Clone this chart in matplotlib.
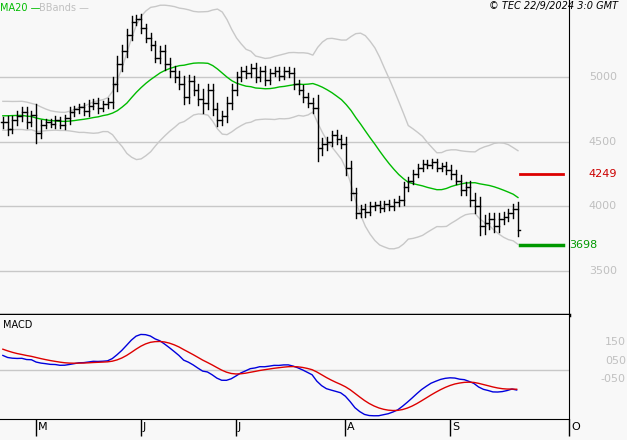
import numpy as np
import pandas as pd
import matplotlib.pyplot as plt

# --- data ---
pre_close = [3950, 3980, 4020, 4060, 4100, 4150, 4180, 4230, 4270, 4300,
             4350, 4400, 4440, 4480, 4520, 4560, 4600, 4640, 4680, 4720,
             4760, 4780, 4800, 4790, 4770, 4750, 4720, 4700, 4690, 4680,
             4670, 4660, 4650, 4660, 4650]
close = [4650, 4600, 4670, 4700, 4730, 4650, 4710, 4570, 4630, 4650,
         4640, 4670, 4630, 4680, 4730, 4750, 4770, 4740, 4780, 4800,
         4760, 4790, 4810, 4950, 5100, 5200, 5330, 5430, 5450, 5380,
         5300, 5250, 5150, 5200, 5100, 5050, 5000, 4950, 4850, 4970,
         4900, 4830, 4800, 4900, 4750, 4670, 4700, 4800, 4900, 5000,
         5050, 5030, 5070, 5000, 5050, 4980, 5030, 5050, 5010, 5050,
         5030, 4950, 4900, 4850, 4800, 4760, 4450, 4480, 4500, 4550,
         4520, 4480, 4300, 4100, 3950, 3980, 3960, 4000, 4010, 3990,
         4020, 4000, 4030, 4050, 4150, 4200, 4250, 4300, 4330, 4320,
         4340, 4300, 4310, 4280, 4250, 4200, 4130, 4150, 4050, 4000,
         3850, 3870, 3900, 3850, 3900, 3920, 3950, 3980, 3820]
rng = [40, 50, 30, 40, 40, 40, 30, 80, 40, 25,
       25, 30, 25, 30, 40, 30, 25, 30, 40, 30,
       40, 25, 30, 50, 60, 50, 45, 40, 30, 40,
       30, 40, 30, 40, 45, 50, 40, 45, 60, 50,
       40, 45, 80, 50, 45, 50, 40, 45, 50, 40,
       30, 40, 30, 40, 30, 40, 30, 25, 30, 25,
       30, 40, 30, 40, 30, 40, 100, 50, 40, 30,
       40, 30, 60, 50, 40, 30, 40, 30, 25, 30,
       25, 30, 25, 30, 40, 30, 30, 25, 30, 25,
       25, 30, 25, 30, 40, 30, 40, 40, 45, 50,
       70, 60, 45, 50, 45, 40, 30, 40, 50]
month_labels = ["M", "J", "J", "A", "S", "O"]
month_pos = [7, 29, 49, 72, 94, 119]
resistance = 4249
support = 3698
price_ticks = [3500, 4000, 4500, 5000]
macd_ticks = [150, 50, -50]

allc = pd.Series(pre_close + close, dtype=float)
ma20 = allc.rolling(20).mean()
sd20 = allc.rolling(20).std(ddof=0)
upper = ma20 + 2 * sd20
lower = ma20 - 2 * sd20
macd = allc.ewm(span=12, adjust=False).mean() - allc.ewm(span=26, adjust=False).mean()
signal = macd.ewm(span=9, adjust=False).mean()
n0 = len(pre_close)
x = np.arange(len(close))
sl = slice(n0, None)

bg = "#f8f8f8"
grey = "#c8c8c8"
fig = plt.figure(figsize=(6.27, 4.4), dpi=100, facecolor=bg)
ax = fig.add_axes([0, 0.284, 0.9075, 0.716], facecolor=bg)
ax2 = fig.add_axes([0, 0.048, 0.9075, 0.236], facecolor=bg)

# price panel
for t in price_ticks:
    ax.axhline(t, color=grey, lw=1, zorder=0)
ax.plot(x, upper[sl].values, color=grey, lw=1)
ax.plot(x, lower[sl].values, color=grey, lw=1)
ax.plot(x, ma20[sl].values, color="#00bb00", lw=1)
opens = [pre_close[-1]] + close[:-1]
for i, (o, c, r) in enumerate(zip(opens, close, rng)):
    hi = max(o, c) + r
    lo = min(o, c) - r
    ax.plot([i, i], [lo, hi], color="black", lw=1)
    ax.plot([i - 0.4, i], [o, o], color="black", lw=1)
    ax.plot([i, i + 0.4], [c, c], color="black", lw=1)
ax.plot([108.5, 117.5], [resistance, resistance], color="#dd0000", lw=2)
ax.plot([108.5, 117.5], [support, support], color="#009900", lw=2.5)
ax.set_xlim(-0.6, 118.7)
ax.set_ylim(3159, 5597)
ax.set_xticks([])
ax.set_yticks([])
for s in ["top", "left"]:
    ax.spines[s].set_visible(False)
ax.spines["right"].set_color("black")
ax.spines["bottom"].set_linewidth(2.5)
for t in price_ticks:
    ax.text(1.035, t, f"{t}", transform=ax.get_yaxis_transform(), color="#c0c0c0",
            fontsize=8, va="center", ha="left", clip_on=False)
ax.text(1.035, resistance, f"{resistance}", transform=ax.get_yaxis_transform(),
        color="#cc0000", fontsize=8, va="center", clip_on=False)
ax.text(1.0, support, f"{support}", transform=ax.get_yaxis_transform(),
        color="#009900", fontsize=8, va="center", clip_on=False)
ax.text(0.0, 0.99, "MA20 —", transform=ax.transAxes, color="#00bb00", fontsize=7, va="top")
ax.text(0.068, 0.99, "BBands —", transform=ax.transAxes, color="#c0c0c0", fontsize=7, va="top")
fig.text(0.985, 0.998, "© TEC 22/9/2024 3:0 GMT", ha="right", va="top",
         fontsize=7, style="italic", color="black")

# MACD panel
ax2.axhline(0, color=grey, lw=1, zorder=0)
ax2.plot(x, macd[sl].values, color="#0000dd", lw=1)
ax2.plot(x, signal[sl].values, color="#dd0000", lw=1)
ax2.set_xlim(-0.6, 118.7)
ax2.set_ylim(-265, 297)
ax2.set_yticks([])
ax2.set_xticks(month_pos)
ax2.set_xticklabels([])
ax2.tick_params(axis="x", direction="out", length=12, width=1, color="black")
for p, lab in zip(month_pos, month_labels):
    ax2.text(p + 0.4, -0.03, lab, transform=ax2.get_xaxis_transform(),
             ha="left", va="top", fontsize=8, clip_on=False)
for t in macd_ticks:
    lab = f"{t/100:.2f}".replace("0.", "0").replace("1.", "1")
    ax2.text(1.1, t, lab, transform=ax2.get_yaxis_transform(), color="#c0c0c0",
             fontsize=8, va="center", ha="right", clip_on=False)
ax2.spines["top"].set_visible(False)
ax2.spines["left"].set_visible(False)
ax2.text(0.005, 0.95, "MACD", transform=ax2.transAxes, fontsize=7, va="top")

fig.savefig("out.png", dpi=100, facecolor=bg)
